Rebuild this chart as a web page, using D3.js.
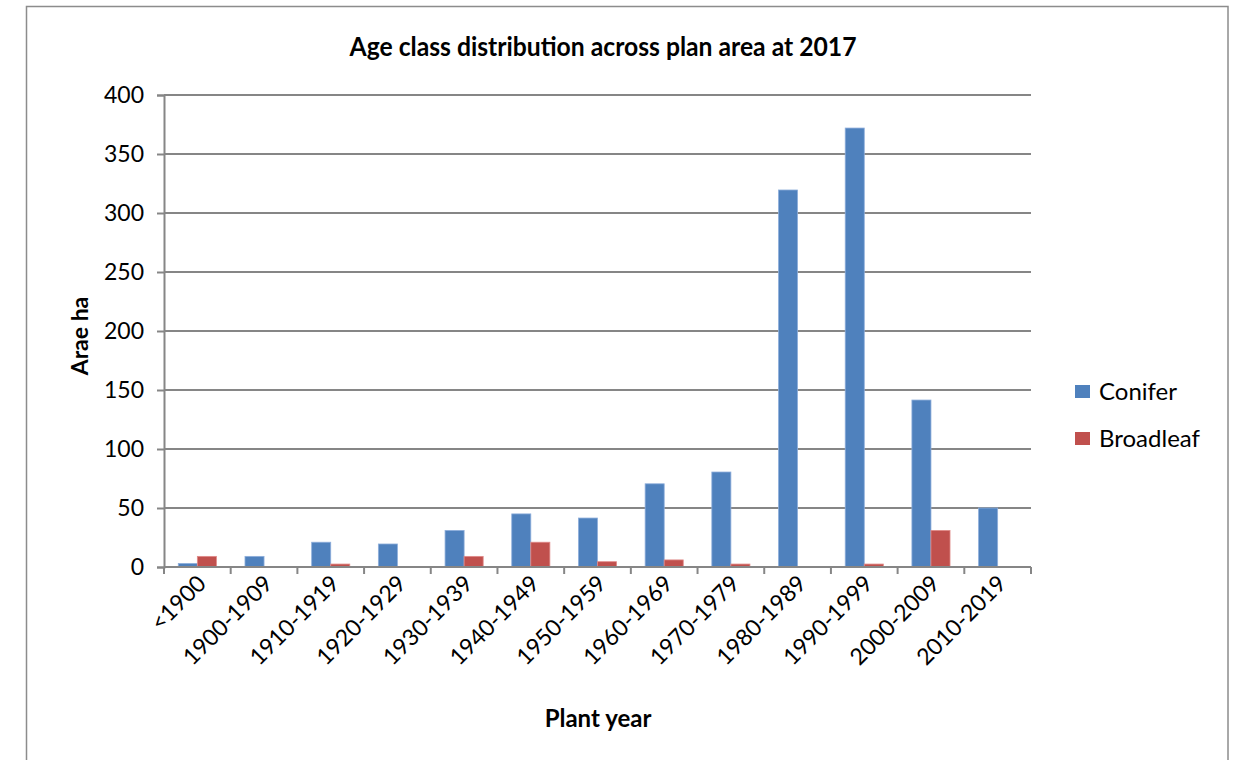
<!DOCTYPE html>
<html>
<head>
<meta charset="utf-8">
<script src="https://cdn.jsdelivr.net/npm/d3@7"></script>
<style>
  html, body { margin: 0; padding: 0; background: #fff; }
  svg { display: block; font-family: Lato, "Open Sans", sans-serif; }
</style>
</head>
<body>
<svg id="chart" width="1236" height="760"></svg>
<script>
// Plant-year classes and planted area (ha) per species group
const categories = ["<1900", "1900-1909", "1910-1919", "1920-1929", "1930-1939", "1940-1949",
  "1950-1959", "1960-1969", "1970-1979", "1980-1989", "1990-1999", "2000-2009", "2010-2019"];
const conifer   = [3, 9, 21, 19.5, 31, 45, 41.5, 70.5, 80.5, 319.5, 372, 141.5, 50];
const broadleaf = [9, 0.5, 2.5, 0.5, 9, 21, 4.5, 6, 2.5, 0, 2.5, 31, 0];
const seriesNames = ["Conifer", "Broadleaf"];
const seriesColors = ["#4F81BD", "#C0504D"];
const yTicks = [0, 50, 100, 150, 200, 250, 300, 350, 400];

const svg = d3.select("#chart");
const plot = { left: 164, right: 1031, top: 95, bottom: 567 };

// Outer chart frame
svg.append("rect")
  .attr("x", 26.5).attr("y", 6.5).attr("width", 1201.5).attr("height", 770)
  .attr("fill", "none").attr("stroke", "#8c8c8c").attr("stroke-width", 1.5);

const x = d3.scaleBand().domain(categories).range([plot.left, plot.right]);
const inner = d3.scaleBand().domain(seriesNames)
  .range([0, x.bandwidth()]).paddingInner(0).paddingOuter(0.75);
const y = d3.scaleLinear().domain([0, 400]).range([plot.bottom, plot.top]);

// Horizontal gridlines
svg.append("g").selectAll("line").data(yTicks.filter(d => d > 0)).join("line")
  .attr("x1", plot.left).attr("x2", plot.right)
  .attr("y1", d => y(d)).attr("y2", d => y(d))
  .attr("stroke", "#868686").attr("stroke-width", 2);

// Bars
const rows = categories.map((c, i) => ({ cat: c, values: [conifer[i], broadleaf[i]] }));
const groups = svg.append("g").selectAll("g").data(rows).join("g")
  .attr("transform", d => `translate(${x(d.cat)},0)`);
groups.selectAll("rect")
  .data(d => d.values.map((v, k) => ({ v, k })))
  .join("rect")
  .attr("x", d => inner(seriesNames[d.k]))
  .attr("width", inner.bandwidth())
  .attr("y", d => y(d.v))
  .attr("height", d => y(0) - y(d.v))
  .attr("fill", d => seriesColors[d.k])
  .attr("stroke", d => d.k === 0 ? "#8eaedb" : "#e08a88")
  .attr("stroke-width", 0.8);

// Y axis
const yAxis = d3.axisLeft(y).tickValues(yTicks).tickSize(7).tickPadding(13);
const gy = svg.append("g").attr("transform", `translate(${plot.left},0)`).call(yAxis);
gy.select(".domain").attr("stroke", "#868686").attr("stroke-width", 2);
gy.selectAll(".tick line").attr("stroke", "#868686").attr("stroke-width", 2);
gy.selectAll(".tick text").attr("font-size", 23).attr("fill", "#000")
  .attr("font-family", "Lato, sans-serif");

// X axis: baseline with ticks at category boundaries
const gx = svg.append("g");
gx.append("line").attr("x1", plot.left).attr("x2", plot.right)
  .attr("y1", plot.bottom).attr("y2", plot.bottom)
  .attr("stroke", "#868686").attr("stroke-width", 2);
const bounds = categories.map(c => x(c)).concat([plot.right]);
gx.selectAll("line.tk").data(bounds).join("line").attr("class", "tk")
  .attr("x1", d => d).attr("x2", d => d)
  .attr("y1", plot.bottom).attr("y2", plot.bottom + 7)
  .attr("stroke", "#868686").attr("stroke-width", 2);
gx.selectAll("text").data(categories).join("text")
  .attr("transform", d => `translate(${x(d) + x.bandwidth() / 2 + 10},${plot.bottom + 18}) rotate(-45)`)
  .attr("text-anchor", "end")
  .attr("font-size", 23).attr("fill", "#000")
  .text(d => d);

// Titles
svg.append("text").attr("x", 603).attr("y", 56).attr("text-anchor", "middle")
  .attr("font-size", 26).attr("font-weight", "bold").attr("fill", "#000")
  .attr("textLength", 507).attr("lengthAdjust", "spacingAndGlyphs")
  .text("Age class distribution across plan area at 2017");
svg.append("text").attr("x", 598).attr("y", 727).attr("text-anchor", "middle")
  .attr("font-size", 24).attr("font-weight", "bold").attr("fill", "#000")
  .text("Plant year");
svg.append("text").attr("transform", "translate(88,336) rotate(-90)")
  .attr("text-anchor", "middle")
  .attr("font-size", 23).attr("font-weight", "bold").attr("fill", "#000")
  .text("Arae ha");

// Legend
const legend = svg.append("g").selectAll("g").data(seriesNames).join("g")
  .attr("transform", (d, i) => `translate(1075,${385 + i * 47})`);
legend.append("rect").attr("width", 15).attr("height", 13)
  .attr("fill", (d, i) => seriesColors[i]);
legend.append("text").attr("x", 24).attr("y", 15)
  .attr("font-size", 24).attr("fill", "#000").text(d => d);
</script>
</body>
</html>
